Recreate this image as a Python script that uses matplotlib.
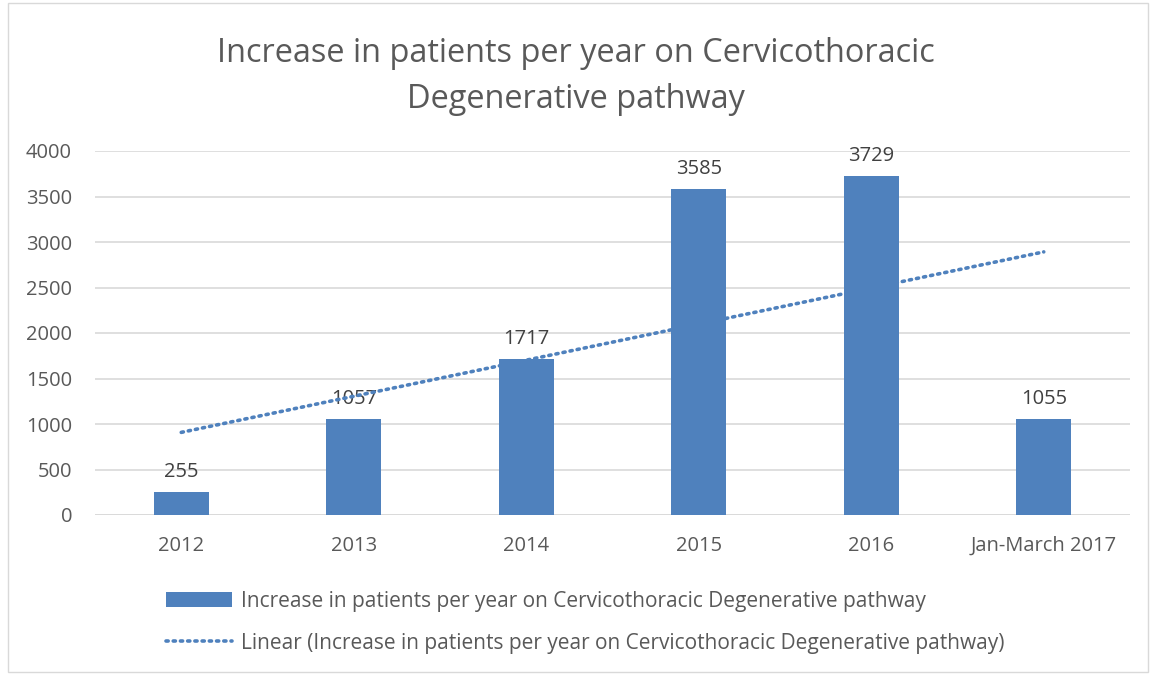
import numpy as np
import matplotlib
matplotlib.use("Agg")
import matplotlib.pyplot as plt
from matplotlib.patches import Rectangle

categories = ["2012", "2013", "2014", "2015", "2016", "Jan-March 2017"]
patients = [255, 1057, 1717, 3585, 3729, 1055]
series_name = "Increase in patients per year on Cervicothoracic Degenerative pathway"
title = "Increase in patients per year on Cervicothoracic\nDegenerative pathway"

plt.rcParams['font.family'] = ['Open Sans', 'DejaVu Sans']
bar_color = "#4f81bd"
text_color = "#595959"

fig = plt.figure(figsize=(11.52, 6.75), dpi=100)
ax = fig.add_axes([95 / 1152, 1 - 515 / 675, 1035 / 1152, 364 / 675])

x = np.arange(len(categories))
bars = ax.bar(x, patients, width=0.32, color=bar_color, zorder=3, label=series_name)

# Excel-style linear trendline
xs = np.arange(1, len(patients) + 1)
slope, intercept = np.polyfit(xs, patients, 1)
trend = slope * xs + intercept
line, = ax.plot(x, trend, linestyle=(0, (0.6, 1.4)), dash_capstyle="round", color=bar_color,
                linewidth=2.6, zorder=4, label="Linear (" + series_name + ")")

for xi, v in zip(x, patients):
    ax.text(xi, v + 110, str(v), ha="center", va="bottom", fontsize=14.5, color="#404040")

ax.set_xlim(-0.5, len(categories) - 0.5)
ax.set_ylim(0, 4000)
ax.set_yticks(range(0, 4001, 500))
ax.set_xticks(x)
ax.set_xticklabels(categories)
ax.yaxis.grid(True, color="#d9d9d9", linewidth=1.2, zorder=0)
ax.tick_params(axis="both", length=0, labelsize=14.5, labelcolor=text_color)
ax.tick_params(axis="y", pad=16.5)
ax.tick_params(axis="x", pad=15)
for s in ax.spines.values():
    s.set_visible(False)
ax.axhline(0, color="#d9d9d9", linewidth=1.2, zorder=2)

fig.text(0.5, 1 - 76 / 675, title, ha="center", va="center", fontsize=23.4,
         color=text_color, linespacing=1.52)

leg = fig.legend(handles=[bars, line], loc="upper left", bbox_to_anchor=(147 / 1152, 1 - 572 / 675),
                 frameon=False, fontsize=15, labelcolor=text_color, handlelength=3.2,
                 handletextpad=0.43, labelspacing=1.0)

fig.add_artist(Rectangle((8 / 1152, 0.005), 1140 / 1152, 0.99, transform=fig.transFigure,
                         fill=False, edgecolor="#d9d9d9", linewidth=1))

fig.savefig("out.png", dpi=100)
